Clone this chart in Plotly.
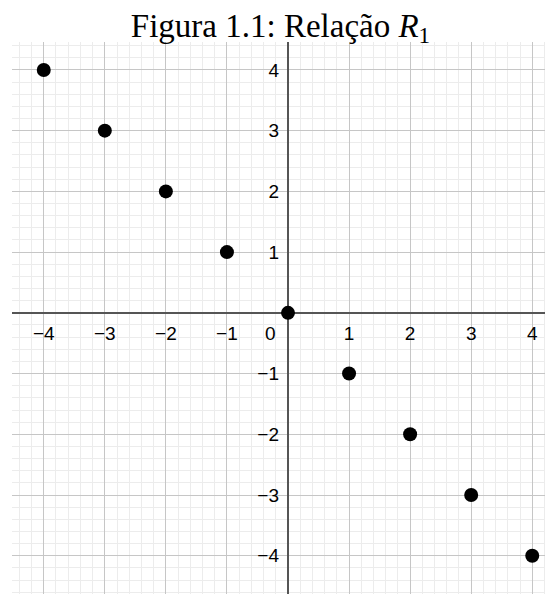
import plotly.graph_objects as go

x_vals = [-4, -3, -2, -1, 0, 1, 2, 3, 4]
y_vals = [4, 3, 2, 1, 0, -1, -2, -3, -4]
tick_vals = [-4, -3, -2, -1, 1, 2, 3, 4]
tick_text = ["\u22124", "\u22123", "\u22122", "\u22121", "1", "2", "3", "4"]
title_text = "Figura 1.1: Relação <i>R</i><sub>1</sub>"

x_range = [-4.52, 4.34]
y_range = [-4.63, 4.46]

# page body has an 8px default margin; figure is sized so the plot area matches the window
FIG_W, FIG_H = 545, 586

label_font = dict(family="Liberation Sans, Arial, sans-serif", size=19, color="#000000")

fig = go.Figure()
fig.add_trace(go.Scatter(
    x=x_vals, y=y_vals, mode="markers",
    marker=dict(color="black", size=14, line=dict(width=0)),
    showlegend=False, cliponaxis=False,
))

axis_common = dict(
    dtick=1, showgrid=True, gridcolor="#c6c6c6", gridwidth=1,
    zeroline=True, zerolinecolor="#555555", zerolinewidth=1.5,
    showline=False, ticks="", automargin=False,
    tickfont=label_font,
    minor=dict(dtick=0.2, showgrid=True, gridcolor="#ececec", gridwidth=1, ticks=""),
    tickmode="array", tickvals=tick_vals, ticktext=tick_text,
)

fig.update_layout(
    width=FIG_W, height=FIG_H,
    margin=dict(l=4, r=0, t=34, b=0, autoexpand=False),
    paper_bgcolor="white", plot_bgcolor="white",
    title=dict(text=title_text, x=0.5, xanchor="center", y=1 - 17 / FIG_H,
               yanchor="middle", yref="container", automargin=False,
               font=dict(family="Liberation Serif, DejaVu Serif, serif", size=33, color="black")),
    xaxis=dict(range=x_range, anchor="free",
               position=(0 - y_range[0]) / (y_range[1] - y_range[0]),
               ticklabelstandoff=7, **axis_common),
    yaxis=dict(range=y_range, anchor="free",
               position=(0 - x_range[0]) / (x_range[1] - x_range[0]),
               ticklabelstandoff=9, **axis_common),
)

fig.add_annotation(x=0, y=0, text="0", showarrow=False, xanchor="right", yanchor="top",
                   xshift=-10, yshift=-8, font=label_font)

fig.write_html("out.html")
